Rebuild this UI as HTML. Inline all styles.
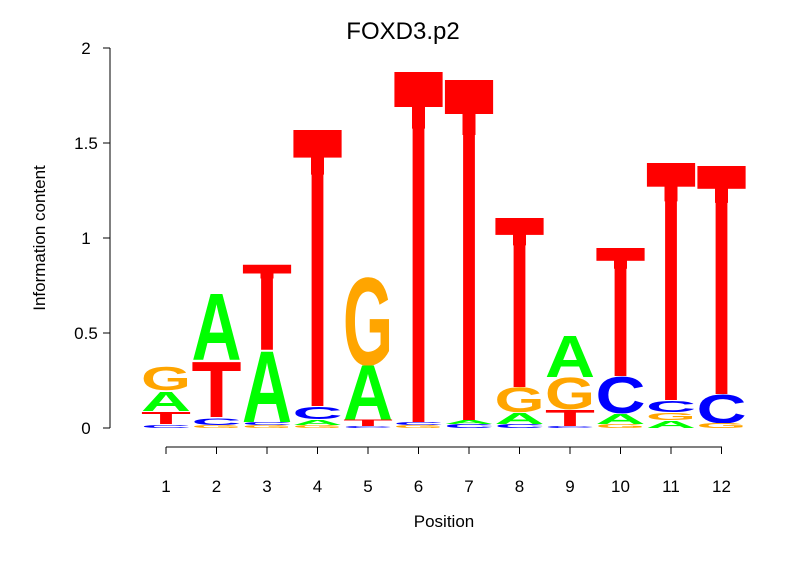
<!DOCTYPE html>
<html><head><meta charset="utf-8"><style>html,body{margin:0;padding:0;background:#fff}</style></head>
<body>
<svg width="806" height="559" xmlns="http://www.w3.org/2000/svg" font-family="Liberation Sans, sans-serif">
<rect width="806" height="559" fill="#fff"/>
<text x="403" y="39" font-size="24" text-anchor="middle">FOXD3.p2</text>
<g stroke="#000" stroke-width="1" fill="none">
<path d="M110 48V428M110 48H103M110 143H103M110 238H103M110 333H103M110 428H103"/>
<path d="M166 447H722M166 447v7M216.5 447v7M267 447v7M317.5 447v7M368 447v7M418.5 447v7M469 447v7M519.5 447v7M570 447v7M620.5 447v7M671 447v7M721.5 447v7"/>
</g>
<g font-size="17" text-anchor="middle">
<text x="86" y="434">0</text>
<text x="86" y="339">0.5</text>
<text x="86" y="244">1</text>
<text x="86" y="149">1.5</text>
<text x="86" y="54">2</text>
<text transform="translate(45,238) rotate(-90)">Information content</text>
<text x="166" y="492">1</text><text x="216.5" y="492">2</text><text x="267" y="492">3</text><text x="317.5" y="492">4</text><text x="368" y="492">5</text><text x="418.5" y="492">6</text><text x="469" y="492">7</text><text x="519.5" y="492">8</text><text x="570" y="492">9</text><text x="620.5" y="492">10</text><text x="671" y="492">11</text><text x="721.5" y="492">12</text>
<text x="444" y="527">Position</text>
</g>
<g font-size="104.07" font-weight="bold">
<text transform="translate(141,390) scale(1,0.321)" textLength="50" lengthAdjust="spacingAndGlyphs" fill="#FFA500">G</text>
<text transform="translate(141,411) scale(1,0.265)" textLength="50" lengthAdjust="spacingAndGlyphs" fill="#00FF00">A</text>
<text transform="translate(141,424) scale(1,0.168)" textLength="50" lengthAdjust="spacingAndGlyphs" fill="#FF0000">T</text>
<text transform="translate(141,428) scale(1,0.042)" textLength="50" lengthAdjust="spacingAndGlyphs" fill="#0000FF">C</text>
<text transform="translate(191.5,360) scale(1,0.922)" textLength="50" lengthAdjust="spacingAndGlyphs" fill="#00FF00">A</text>
<text transform="translate(191.5,417) scale(1,0.768)" textLength="50" lengthAdjust="spacingAndGlyphs" fill="#FF0000">T</text>
<text transform="translate(191.5,425) scale(1,0.084)" textLength="50" lengthAdjust="spacingAndGlyphs" fill="#0000FF">C</text>
<text transform="translate(191.5,428) scale(1,0.042)" textLength="50" lengthAdjust="spacingAndGlyphs" fill="#FFA500">G</text>
<text transform="translate(242,350) scale(1,1.187)" textLength="50" lengthAdjust="spacingAndGlyphs" fill="#FF0000">T</text>
<text transform="translate(242,422) scale(1,0.978)" textLength="50" lengthAdjust="spacingAndGlyphs" fill="#00FF00">A</text>
<text transform="translate(242,425) scale(1,0.042)" textLength="50" lengthAdjust="spacingAndGlyphs" fill="#0000FF">C</text>
<text transform="translate(242,428) scale(1,0.042)" textLength="50" lengthAdjust="spacingAndGlyphs" fill="#FFA500">G</text>
<text transform="translate(292.5,406) scale(1,3.855)" textLength="50" lengthAdjust="spacingAndGlyphs" fill="#FF0000">T</text>
<text transform="translate(292.5,419) scale(1,0.168)" textLength="50" lengthAdjust="spacingAndGlyphs" fill="#0000FF">C</text>
<text transform="translate(292.5,425) scale(1,0.07)" textLength="50" lengthAdjust="spacingAndGlyphs" fill="#00FF00">A</text>
<text transform="translate(292.5,428) scale(1,0.042)" textLength="50" lengthAdjust="spacingAndGlyphs" fill="#FFA500">G</text>
<text transform="translate(343,365) scale(1,1.201)" textLength="50" lengthAdjust="spacingAndGlyphs" fill="#FFA500">G</text>
<text transform="translate(343,420) scale(1,0.754)" textLength="50" lengthAdjust="spacingAndGlyphs" fill="#00FF00">A</text>
<text transform="translate(343,426) scale(1,0.084)" textLength="50" lengthAdjust="spacingAndGlyphs" fill="#FF0000">T</text>
<text transform="translate(343,428) scale(1,0.028)" textLength="50" lengthAdjust="spacingAndGlyphs" fill="#0000FF">C</text>
<text transform="translate(393.5,422) scale(1,4.888)" textLength="50" lengthAdjust="spacingAndGlyphs" fill="#FF0000">T</text>
<text transform="translate(393.5,425) scale(1,0.042)" textLength="50" lengthAdjust="spacingAndGlyphs" fill="#0000FF">C</text>
<text transform="translate(393.5,428) scale(1,0.042)" textLength="50" lengthAdjust="spacingAndGlyphs" fill="#FFA500">G</text>
<text transform="translate(444,420) scale(1,4.749)" textLength="50" lengthAdjust="spacingAndGlyphs" fill="#FF0000">T</text>
<text transform="translate(444,424) scale(1,0.056)" textLength="50" lengthAdjust="spacingAndGlyphs" fill="#00FF00">A</text>
<text transform="translate(444,428) scale(1,0.056)" textLength="50" lengthAdjust="spacingAndGlyphs" fill="#0000FF">C</text>
<text transform="translate(494.5,387) scale(1,2.36)" textLength="50" lengthAdjust="spacingAndGlyphs" fill="#FF0000">T</text>
<text transform="translate(494.5,412) scale(1,0.335)" textLength="50" lengthAdjust="spacingAndGlyphs" fill="#FFA500">G</text>
<text transform="translate(494.5,424) scale(1,0.154)" textLength="50" lengthAdjust="spacingAndGlyphs" fill="#00FF00">A</text>
<text transform="translate(494.5,428) scale(1,0.056)" textLength="50" lengthAdjust="spacingAndGlyphs" fill="#0000FF">C</text>
<text transform="translate(545,377) scale(1,0.573)" textLength="50" lengthAdjust="spacingAndGlyphs" fill="#00FF00">A</text>
<text transform="translate(545,409) scale(1,0.433)" textLength="50" lengthAdjust="spacingAndGlyphs" fill="#FFA500">G</text>
<text transform="translate(545,426) scale(1,0.223)" textLength="50" lengthAdjust="spacingAndGlyphs" fill="#FF0000">T</text>
<text transform="translate(545,428) scale(1,0.028)" textLength="50" lengthAdjust="spacingAndGlyphs" fill="#0000FF">C</text>
<text transform="translate(595.5,376) scale(1,1.788)" textLength="50" lengthAdjust="spacingAndGlyphs" fill="#FF0000">T</text>
<text transform="translate(595.5,413) scale(1,0.503)" textLength="50" lengthAdjust="spacingAndGlyphs" fill="#0000FF">C</text>
<text transform="translate(595.5,424) scale(1,0.14)" textLength="50" lengthAdjust="spacingAndGlyphs" fill="#00FF00">A</text>
<text transform="translate(595.5,428) scale(1,0.056)" textLength="50" lengthAdjust="spacingAndGlyphs" fill="#FFA500">G</text>
<text transform="translate(646,400) scale(1,3.31)" textLength="50" lengthAdjust="spacingAndGlyphs" fill="#FF0000">T</text>
<text transform="translate(646,412) scale(1,0.154)" textLength="50" lengthAdjust="spacingAndGlyphs" fill="#0000FF">C</text>
<text transform="translate(646,420) scale(1,0.098)" textLength="50" lengthAdjust="spacingAndGlyphs" fill="#FFA500">G</text>
<text transform="translate(646,428) scale(1,0.098)" textLength="50" lengthAdjust="spacingAndGlyphs" fill="#00FF00">A</text>
<text transform="translate(696.5,394) scale(1,3.184)" textLength="50" lengthAdjust="spacingAndGlyphs" fill="#FF0000">T</text>
<text transform="translate(696.5,423) scale(1,0.391)" textLength="50" lengthAdjust="spacingAndGlyphs" fill="#0000FF">C</text>
<text transform="translate(696.5,428) scale(1,0.07)" textLength="50" lengthAdjust="spacingAndGlyphs" fill="#FFA500">G</text>
</g>
<g fill="#fff">
<rect x="241" y="273.5" width="19.5" height="7.7"/><rect x="273.5" y="273.5" width="19.5" height="7.7"/>
<rect x="291.5" y="157.6" width="19.5" height="18.5"/><rect x="324" y="157.6" width="19.5" height="18.5"/>
<rect x="392.5" y="107" width="19.5" height="22.5"/><rect x="425" y="107" width="19.5" height="22.5"/>
<rect x="443" y="114" width="19.5" height="22"/><rect x="475.5" y="114" width="19.5" height="22"/>
<rect x="493.5" y="234.9" width="19.5" height="12.3"/><rect x="526" y="234.9" width="19.5" height="12.3"/>
<rect x="594.5" y="260.8" width="19.5" height="10"/><rect x="627" y="260.8" width="19.5" height="10"/>
<rect x="645" y="186.7" width="19.5" height="16.3"/><rect x="677.5" y="186.7" width="19.5" height="16.3"/>
<rect x="695.5" y="188.8" width="19.5" height="15.7"/><rect x="728" y="188.8" width="19.5" height="15.7"/>
</g>
</svg>
</body></html>
